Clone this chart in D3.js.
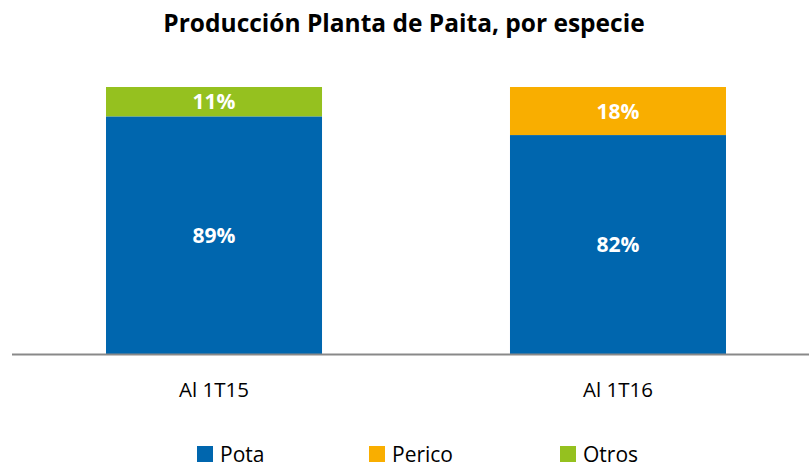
<!DOCTYPE html>
<html>
<head>
<meta charset="utf-8">
<script src="https://cdn.jsdelivr.net/npm/d3@7"></script>
<style>
  body { margin: 0; background: #fff; }
  svg { display: block; font-family: 'Open Sans', sans-serif; }
</style>
</head>
<body>
<svg id="chart" width="809" height="467"></svg>
<script>
const categories = ['Al 1T15', 'Al 1T16']
const species = ['Pota', 'Perico', 'Otros']
const pota = [0.89, 0.82]
const perico = [0, 0.18]
const otros = [0.11, 0]
const colors = ['#0066ae', '#f9ae00', '#95c11f']

const svg = d3.select('#chart')
const baseY = 354
const topY = 87

const x = d3.scaleBand()
  .domain(categories)
  .range([12, 820])
  .paddingInner(0.4653)
  .paddingOuter(0.2327)
const y = d3.scaleLinear().domain([0, 1]).range([baseY, topY])
const color = d3.scaleOrdinal().domain(species).range(colors)

const rows = categories.map((c, i) => ({ cat: c, Pota: pota[i], Perico: perico[i], Otros: otros[i] }))
const stacked = d3.stack().keys(species)(rows)

// title
svg.append('text')
  .attr('x', 404)
  .attr('y', 32)
  .attr('text-anchor', 'middle')
  .attr('font-weight', 'bold')
  .attr('font-size', 24.5)
  .attr('fill', '#000')
  .text('Producción Planta de Paita, por especie')

const layers = svg.selectAll('.layer')
  .data(stacked)
  .enter()
  .append('g')
    .attr('class', 'layer')
    .attr('fill', d => color(d.key))

layers.selectAll('rect')
  .data(d => d.filter(s => s[1] - s[0] > 0))
  .enter()
  .append('rect')
    .attr('x', d => x(d.data.cat))
    .attr('width', x.bandwidth())
    .attr('y', d => y(d[1]))
    .attr('height', d => y(d[0]) - y(d[1]))

layers.selectAll('text')
  .data(d => d.filter(s => s[1] - s[0] > 0))
  .enter()
  .append('text')
    .attr('x', d => x(d.data.cat) + x.bandwidth() / 2)
    .attr('y', d => (y(d[0]) + y(d[1])) / 2)
    .attr('dy', '0.36em')
    .attr('text-anchor', 'middle')
    .attr('fill', '#fff')
    .attr('font-weight', 'bold')
    .attr('font-size', 21)
    .text(d => Math.round((d[1] - d[0]) * 100) + '%')

// baseline
svg.append('line')
  .attr('x1', 12)
  .attr('x2', 809)
  .attr('y1', baseY + 0.5)
  .attr('y2', baseY + 0.5)
  .attr('stroke', '#898989')
  .attr('stroke-width', 2)

const xAxis = d3.axisBottom(x).tickSize(0).tickPadding(0)
svg.append('g')
  .attr('transform', `translate(0, ${baseY})`)
  .call(xAxis)
  .call(g => g.select('.domain').remove())
  .selectAll('text')
    .attr('dy', 0)
    .attr('y', 42.5)
    .attr('font-size', 20.5)
    .attr('font-family', "'Open Sans', sans-serif")
    .attr('fill', '#000')

// legend
const legendX = [197, 369, 560]
const legend = svg.selectAll('.legend')
  .data(species)
  .enter()
  .append('g')
    .attr('class', 'legend')
    .attr('transform', (d, i) => `translate(${legendX[i]}, 446)`)
legend.append('rect')
  .attr('width', 16)
  .attr('height', 16)
  .attr('fill', d => color(d))
legend.append('text')
  .attr('x', 23)
  .attr('y', 15.5)
  .attr('font-size', 21)
  .attr('fill', '#000')
  .text(d => d)
</script>
</body>
</html>
